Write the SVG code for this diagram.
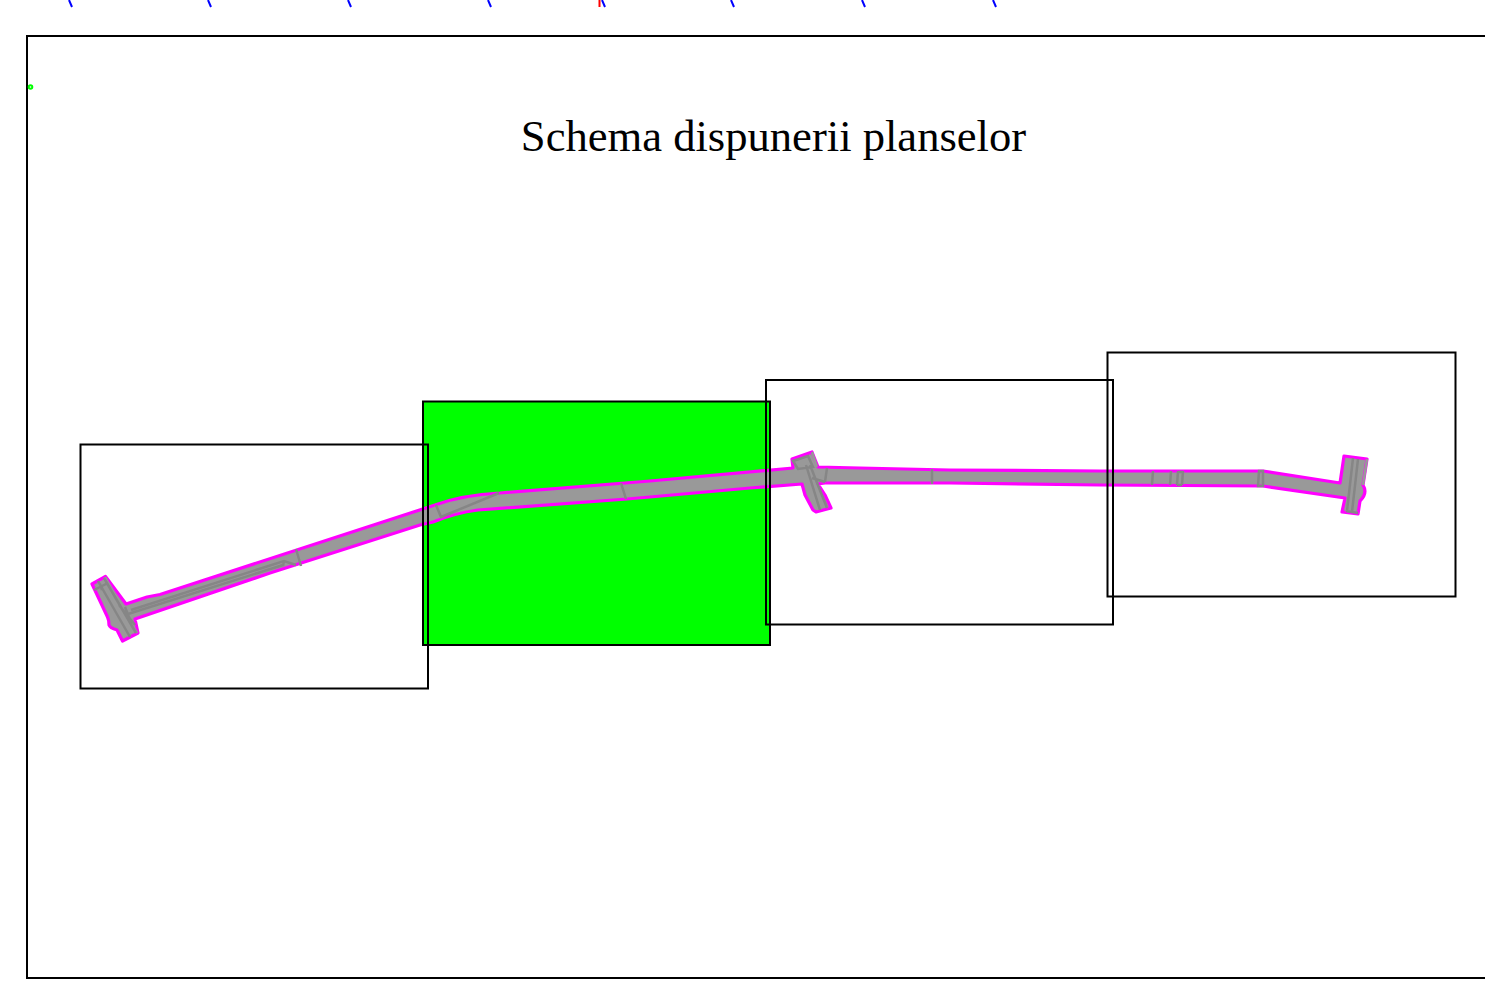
<svg xmlns="http://www.w3.org/2000/svg" width="1485" height="988" viewBox="0 0 1485 988">
<style>
.sheet{fill:none;stroke:#000;stroke-width:2}
.road{fill:#999;stroke:#f0f;stroke-width:3.200;stroke-linejoin:round}
.det{fill:none;stroke:#868686;stroke-width:2.500}
.edge{fill:none;stroke:#999;stroke-width:2.500}
.tick{fill:none;stroke:#00f;stroke-width:2}
</style>
<rect width="1485" height="988" fill="#fff"/>
<g id="ticks" class="tick">
<path d="M69 0L72 7M208 0L211 7M348 0L351 7M488 0L491 7M602 0L605 7M731 0L734 7M862 0L865 7M993 0L996 7"/>
</g>
<path d="M599.500 0V7" fill="none" stroke="#f00" stroke-width="2"/>
<path id="frame" d="M1485 36H27V978H1485" fill="none" stroke="#000" stroke-width="2"/>
<circle cx="30.500" cy="87" r="1.800" fill="none" stroke="#0f0" stroke-width="2"/>
<text x="773.500" y="151" font-family="'Liberation Serif','Times New Roman',serif" font-size="44.600" text-anchor="middle" fill="#000">Schema dispunerii planselor</text>
<rect id="sheet-2-fill" x="423" y="401.500" width="347" height="243.500" fill="#0f0"/>
<g id="road">
<path class="road" d="M92 584L105.500 576.500L126 604L147 597L160 594.500L435 505Q462 495 500 493L650 481L793 468L792 459L812 452L818 467L860 468L950 470L1100 471L1263 471L1340 483L1344 456L1367 459L1363 485Q1368 493 1360 501L1358 514L1342 512L1345 498L1263 486L1100 485L950 483L867 483L825 483L818 484L825 495L831 508L816 512L813 510L805 495L802 484L750 488L650 497L627 499L478 510Q455 513 433 522L420 525L270 573L135 619L138 633L122.500 641L117 630Q110 628 109 625Q109 620 107.500 617Z"/>
<path class="edge" d="M105 577L137 633M812 452L817 467M1367 459L1363 485"/>
<path class="det" d="M98 581L130 637M104 578L136 633M119 605L135 625M125 607L131 622M94 590L106 584M100 584L102 590M131 610L284 561L296 565M128 614L283 565M284 561L283 566M296 549L301 566"/>
<path class="det" d="M436 505L441 517L499 493M621 483L626 499"/>
<path class="det" d="M793 461L808 456L813 467L798 469ZM806 465L820 510M810 465L827 508M827 468L825 482M812 478L825 482M932 469L932 484"/>
<path class="det" d="M1153 471L1152 485M1171 471L1170 485M1178 471L1177 485M1183 471L1182 485M1178 472H1183M1177 485H1182M1259 471L1258 486L1263 486L1263 471Z"/>
<path class="det" d="M1353 458L1347 511M1358 459L1352 512M1346 511L1358 513"/>
</g>
<g id="sheet-1"><rect class="sheet" x="80.500" y="444.500" width="347.500" height="244"/></g>
<g id="sheet-2"><rect class="sheet" x="423" y="401.500" width="347" height="243.500"/></g>
<g id="sheet-3"><rect class="sheet" x="766" y="380" width="347" height="244.500"/></g>
<g id="sheet-4"><rect class="sheet" x="1107.500" y="352.500" width="348" height="244"/></g>
</svg>
